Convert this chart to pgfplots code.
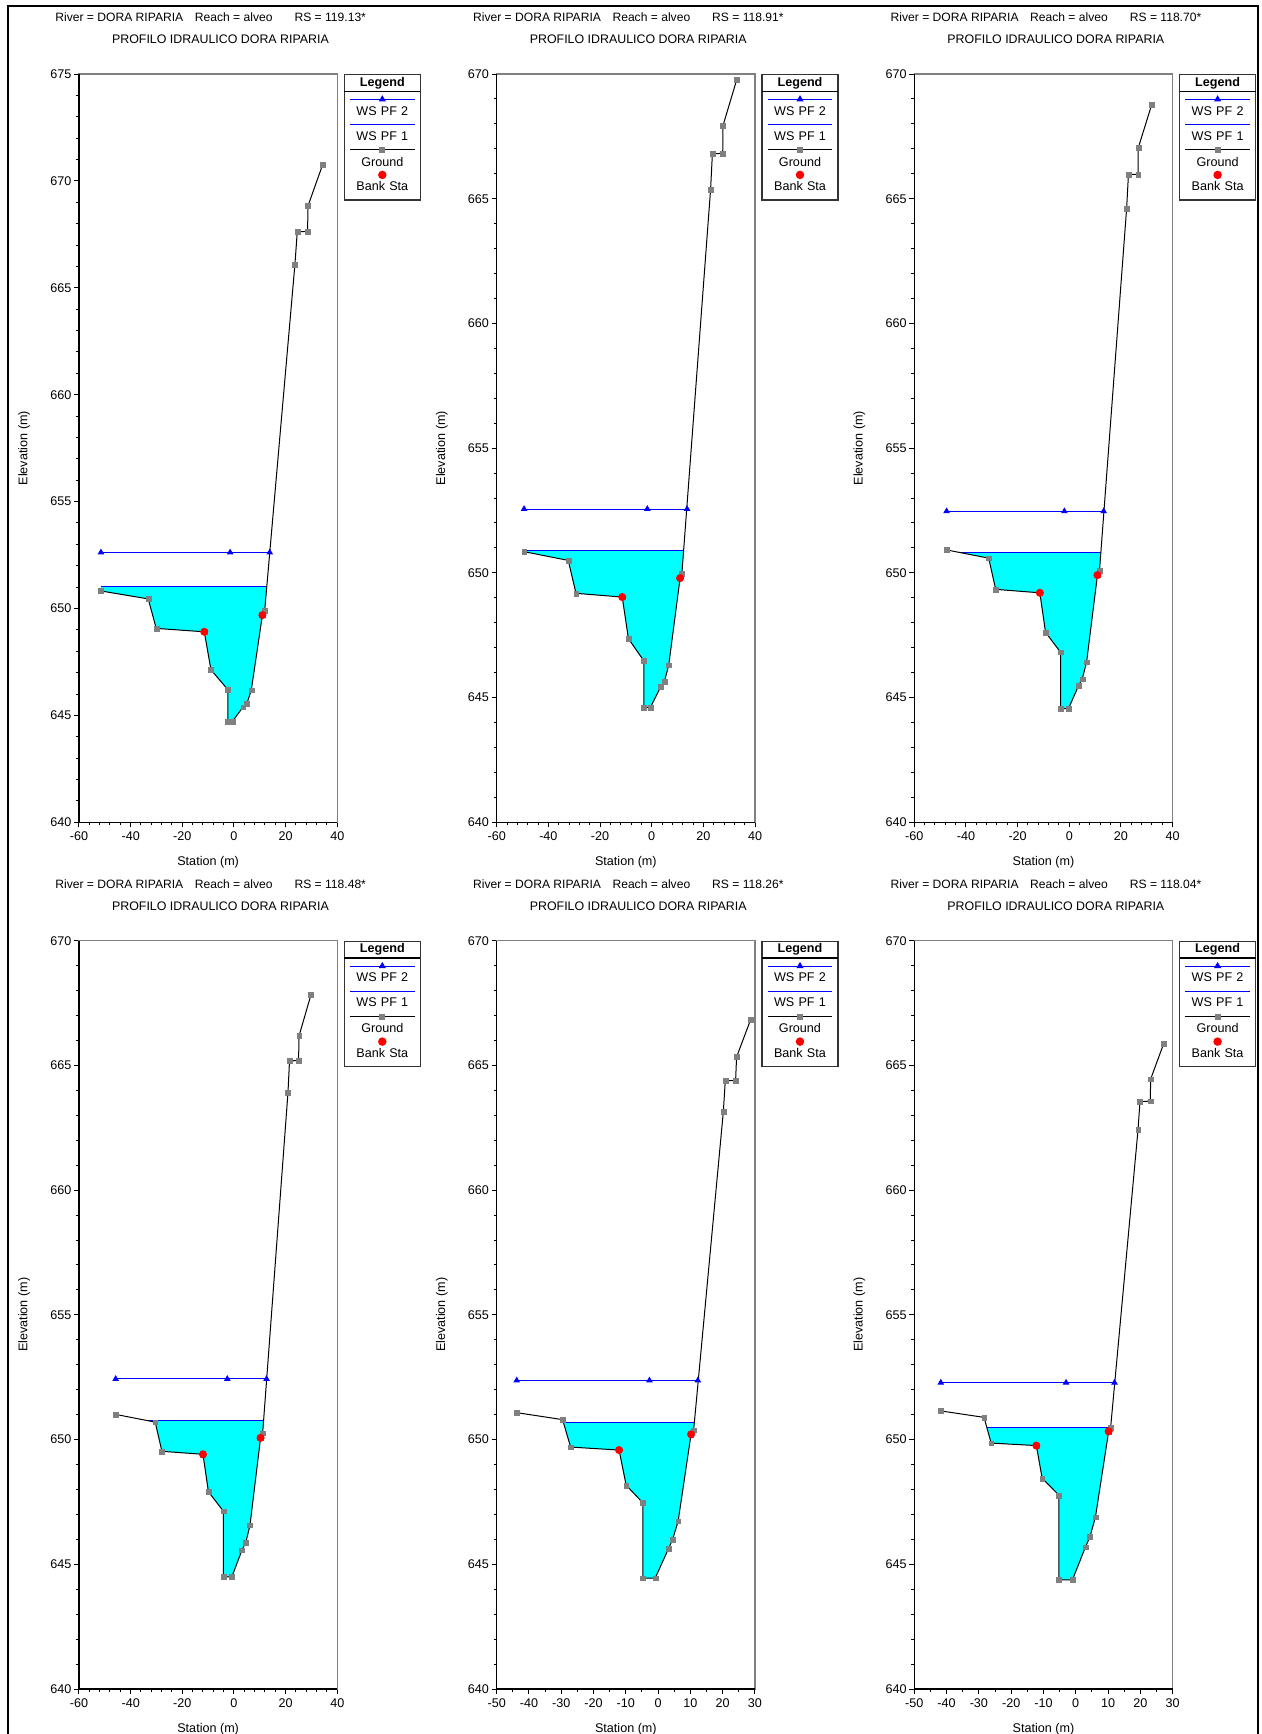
\documentclass[border=0pt]{standalone}
\usepackage{fontspec}
\setmainfont{Liberation Sans}
\usepackage{pgfplots}
\pgfplotsset{compat=1.18}

\definecolor{hecaqua}{RGB}{0,255,255}
\definecolor{hecblue}{RGB}{0,0,255}
\definecolor{hecred}{RGB}{255,0,0}
\definecolor{hecgray}{RGB}{128,128,128}

\pgfplotsset{
  hec/.style={
    scale only axis, width=129.15pt, height=374.15pt,
    ymin=640, minor y tick num=4,
    axis line style={hecgray, line width=0.6pt},
    tick pos=left, tick align=outside,
    tick style={black, line width=0.5pt},
    major tick length=2.5pt, minor tick length=1.5pt,
    /pgf/number format/assume math mode=true,
    xticklabel style={anchor=base, inner sep=0pt, yshift=-6.5pt},
    yticklabel style={anchor=east, inner sep=0pt, xshift=-1.15pt},
    xlabel={Station (m)}, ylabel={Elevation (m)},
    xlabel style={at={(axis description cs:0.5,-0.0575)}, anchor=base, inner sep=0pt},
    ylabel style={at={(axis description cs:-0.2,0.5)}, anchor=base, inner sep=0pt},
    extra description/.code={\draw[black, line width=0.6pt] (0,1) -- (0,0) -- (1,0);},
    legend cell align=center,
    legend style={at={(1,1)}, anchor=north west, xshift=3.2pt,
      draw=black!80, line width=0.6pt, fill=white,
      inner xsep=2.9pt, inner ysep=0pt, row sep=0pt, column sep=0pt,
      cells={anchor=center},
      nodes={inner sep=0pt, text width=32.2pt, align=center,
             text height=4.6pt, text depth=0pt}},
  },
  water/.style={fill=hecaqua, draw=none, forget plot},
  ws1/.style={hecblue, line width=0.5pt, forget plot},
  ws2/.style={hecblue, line width=0.5pt, mark=triangle*, mark size=1.45pt,
    mark options={fill=hecblue}, forget plot},
  ground/.style={black, line width=0.5pt, mark=square*, mark size=1.2pt,
    mark options={draw=hecgray, fill=hecgray, line width=0.1pt}, forget plot},
  bank/.style={only marks, mark=*, mark size=1.8pt,
    mark options={draw=hecred, fill=hecred}, forget plot},
}

% legend of HEC-RAS style: sample drawn above each label
\newcommand\heclegend{%
  \addlegendimage{legend image code/.code={\path[draw=none] (0,-7.5pt) -- (0,3.5pt);}}
  \addlegendentry{\textbf{Legend}}
  \addlegendimage{legend image code/.code={%
    \path[draw=none] (0,-5.5pt) -- (0,7pt);
    \draw[overlay, black, line width=0.6pt] (-2.9pt,9.65pt) -- (35.1pt,9.65pt);
    \draw[overlay, hecblue, line width=0.5pt] (0,5.65pt) -- (32.2pt,5.65pt);
    \draw[overlay, hecblue, mark=triangle*, mark size=1.45pt, mark options={fill=hecblue}]
      plot coordinates {(16.1pt,5.65pt)};}}
  \addlegendentry{WS PF 2}
  \addlegendimage{legend image code/.code={%
    \path[draw=none] (0,-5.5pt) -- (0,7pt);
    \draw[overlay, hecblue, line width=0.5pt] (0,5.5pt) -- (32.2pt,5.5pt);}}
  \addlegendentry{WS PF 1}
  \addlegendimage{legend image code/.code={%
    \path[draw=none] (0,-5.5pt) -- (0,7.5pt);
    \draw[overlay, black, line width=0.5pt] (0,5.85pt) -- (32.2pt,5.85pt);
    \draw[overlay, hecgray, mark=square*, mark size=1.2pt, mark options={fill=hecgray}]
      plot coordinates {(16.1pt,5.85pt)};}}
  \addlegendentry{Ground}
  \addlegendimage{legend image code/.code={%
    \path[draw=none] (0,-7pt) -- (0,6.65pt);
    \draw[overlay, hecred, mark=*, mark size=1.8pt, mark options={fill=hecred}]
      plot coordinates {(16.1pt,5.5pt)};}}
  \addlegendentry{Bank Sta}
}

% two title lines above a panel: x offset, y offset, river station
\newcommand\titles[3]{%
  \node[anchor=base west, inner sep=0pt, font=\fontsize{6.05}{7.3}\selectfont]
    at (27.5pt+#1,-11pt-#2)
    {River = DORA RIPARIA\hspace{5.8pt}Reach = alveo\hspace{11pt}RS = #3*};
  \node[anchor=base, inner sep=0pt, font=\fontsize{6.2}{7.4}\selectfont]
    at (110.25pt+#1,-21.65pt-#2)
    {PROFILO IDRAULICO DORA RIPARIA};
}

\begin{document}
\fontsize{6.3}{7.6}\selectfont
\begin{tikzpicture}

% ---- RS 119.13
\begin{axis}[hec, at={(39.5pt,-411.15pt)}, anchor=south west,
  xmin=-60, xmax=40, xtick={-60,-40,...,40}, minor x tick num=4,
  ymax=675, ytick={640,645,...,675}]
\heclegend
\addplot[water] coordinates {(-51.5,651.01)(-51.5,650.82)(-33.2,650.45)(-30.1,649.07)
  (-11.5,648.91)(-8.9,647.13)(-2.4,646.21)(-2.4,644.72)(-0.6,644.72)(3.5,645.39)
  (5.0,645.56)(6.7,646.18)(11.0,649.69)(11.9,649.92)(12.7,651.01)};
\addplot[ws1] coordinates {(-51.5,651.01)(12.7,651.01)};
\addplot[ws2] coordinates {(-51.5,652.62)(-1.5,652.62)(13.85,652.62)};
\addplot[ground] coordinates {(-51.5,650.82)(-33.2,650.45)(-30.1,649.07)(-11.5,648.91)
  (-8.9,647.13)(-2.4,646.21)(-2.4,644.72)(-0.6,644.72)(3.5,645.39)(5.0,645.56)
  (6.7,646.18)(11.0,649.69)(11.9,649.92)(23.6,666.10)(24.5,667.62)(28.5,667.64)
  (28.65,668.83)(34.3,670.75)};
\addplot[bank] coordinates {(-11.5,648.91)(11.0,649.69)};
\end{axis}
\titles{0pt}{0pt}{119.13}

% ---- RS 118.91
\begin{axis}[hec, at={(248.35pt,-411.15pt)}, anchor=south west,
  xmin=-60, xmax=40, xtick={-60,-40,...,40}, minor x tick num=4,
  ymax=670, ytick={640,645,...,670}]
\heclegend
\addplot[water] coordinates {(-49.4,650.90)(-49.4,650.85)(-32.3,650.50)(-29.3,649.18)
  (-11.4,649.03)(-9.0,647.36)(-3.0,646.47)(-3.0,644.61)(-0.5,644.61)(3.5,645.43)
  (4.9,645.63)(6.6,646.30)(11.0,649.79)(11.7,649.98)(12.4,650.90)};
\addplot[ws1] coordinates {(-49.4,650.90)(12.4,650.90)};
\addplot[ws2] coordinates {(-49.4,652.56)(-1.7,652.56)(13.7,652.56)};
\addplot[ground] coordinates {(-49.4,650.85)(-32.3,650.50)(-29.3,649.18)(-11.4,649.03)
  (-9.0,647.36)(-3.0,646.47)(-3.0,644.61)(-0.5,644.61)(3.5,645.43)(4.9,645.63)
  (6.6,646.30)(11.0,649.79)(11.7,649.98)(22.8,665.36)(23.5,666.80)(27.5,666.82)
  (27.6,667.93)(32.9,669.76)};
\addplot[bank] coordinates {(-11.4,649.03)(11.0,649.79)};
\end{axis}
\titles{208.85pt}{0pt}{118.91}

% ---- RS 118.70
\begin{axis}[hec, at={(457.15pt,-411.15pt)}, anchor=south west,
  xmin=-60, xmax=40, xtick={-60,-40,...,40}, minor x tick num=4,
  ymax=670, ytick={640,645,...,670}]
\heclegend
\addplot[water] coordinates {(-43.1,650.83)(-31.2,650.59)(-28.5,649.34)(-11.4,649.20)
  (-9.2,647.62)(-3.4,646.82)(-3.4,644.56)(-0.3,644.56)(3.6,645.48)(5.0,645.74)
  (6.7,646.42)(10.9,649.91)(11.7,650.10)(12.2,650.83)};
\addplot[ws1] coordinates {(-43.1,650.83)(12.2,650.83)};
\addplot[ws2] coordinates {(-47.5,652.47)(-1.9,652.47)(13.3,652.47)};
\addplot[ground] coordinates {(-47.5,650.92)(-31.2,650.59)(-28.5,649.34)(-11.4,649.20)
  (-9.2,647.62)(-3.4,646.82)(-3.4,644.56)(-0.3,644.56)(3.6,645.48)(5.0,645.74)
  (6.7,646.42)(10.9,649.91)(11.7,650.10)(22.2,664.61)(22.9,665.97)(26.6,665.98)
  (26.7,667.04)(31.9,668.77)};
\addplot[bank] coordinates {(-11.4,649.20)(10.9,649.91)};
\end{axis}
\titles{417.65pt}{0pt}{118.70}

% ---- RS 118.48
\begin{axis}[hec, at={(39.5pt,-844.5pt)}, anchor=south west,
  xmin=-60, xmax=40, xtick={-60,-40,...,40}, minor x tick num=4,
  ymax=670, ytick={640,645,...,670}]
\heclegend
\addplot[water] coordinates {(-34.0,650.78)(-30.5,650.70)(-27.9,649.53)(-12.0,649.41)
  (-9.9,647.91)(-4.1,647.13)(-4.1,644.50)(-0.8,644.50)(3.1,645.57)(4.6,645.88)
  (6.2,646.57)(10.3,650.07)(11.1,650.26)(11.5,650.78)};
\addplot[ws1] coordinates {(-34.0,650.78)(11.5,650.78)};
\addplot[ws2] coordinates {(-45.8,652.43)(-2.6,652.43)(12.6,652.43)};
\addplot[ground] coordinates {(-45.8,651.01)(-30.5,650.70)(-27.9,649.53)(-12.0,649.41)
  (-9.9,647.91)(-4.1,647.13)(-4.1,644.50)(-0.8,644.50)(3.1,645.57)(4.6,645.88)
  (6.2,646.57)(10.3,650.07)(11.1,650.26)(20.9,663.90)(21.5,665.18)(25.0,665.20)
  (25.2,666.19)(29.8,667.83)};
\addplot[bank] coordinates {(-12.0,649.41)(10.3,650.07)};
\end{axis}
\titles{0pt}{433.35pt}{118.48}

% ---- RS 118.26
\begin{axis}[hec, at={(248.35pt,-844.5pt)}, anchor=south west,
  xmin=-50, xmax=30, xtick={-50,-40,...,30}, minor x tick num=1,
  ymax=670, ytick={640,645,...,670}]
\heclegend
\addplot[water] coordinates {(-29.3,650.68)(-27.1,649.70)(-12.1,649.58)(-9.9,648.17)
  (-4.7,647.46)(-4.7,644.45)(-0.9,644.45)(3.2,645.62)(4.5,646.00)(6.2,646.73)
  (10.2,650.21)(11.0,650.38)(11.2,650.68)};
\addplot[ws1] coordinates {(-29.3,650.68)(11.2,650.68)};
\addplot[ws2] coordinates {(-43.8,652.37)(-2.7,652.37)(12.3,652.37)};
\addplot[ground] coordinates {(-43.8,651.08)(-29.6,650.80)(-27.1,649.70)(-12.1,649.58)
  (-9.9,648.17)(-4.7,647.46)(-4.7,644.45)(-0.9,644.45)(3.2,645.62)(4.5,646.00)
  (6.2,646.73)(10.2,650.21)(11.0,650.38)(20.2,663.15)(20.8,664.38)(24.0,664.40)
  (24.3,665.34)(28.7,666.85)};
\addplot[bank] coordinates {(-12.1,649.58)(10.2,650.21)};
\end{axis}
\titles{208.85pt}{433.35pt}{118.26}

% ---- RS 118.04
\begin{axis}[hec, at={(457.15pt,-844.5pt)}, anchor=south west,
  xmin=-50, xmax=30, xtick={-50,-40,...,30}, minor x tick num=1,
  ymax=670, ytick={640,645,...,670}]
\heclegend
\addplot[water] coordinates {(-27.6,650.50)(-26.2,649.86)(-12.2,649.76)(-10.4,648.45)
  (-5.2,647.77)(-5.2,644.38)(-1.0,644.38)(3.0,645.69)(4.4,646.10)(6.1,646.89)
  (10.2,650.33)(10.8,650.47)(10.85,650.50)};
\addplot[ws1] coordinates {(-27.6,650.50)(10.85,650.50)};
\addplot[ws2] coordinates {(-41.8,652.28)(-3.0,652.28)(12.0,652.28)};
\addplot[ground] coordinates {(-41.8,651.15)(-28.4,650.89)(-26.2,649.86)(-12.2,649.76)
  (-10.4,648.45)(-5.2,647.77)(-5.2,644.38)(-1.0,644.38)(3.0,645.69)(4.4,646.10)
  (6.1,646.89)(10.2,650.33)(10.8,650.47)(19.3,662.43)(19.9,663.55)(23.1,663.57)
  (23.2,664.45)(27.2,665.86)};
\addplot[bank] coordinates {(-12.2,649.76)(10.2,650.33)};
\end{axis}
\titles{417.65pt}{433.35pt}{118.04}

% outer frame of the sheet
\draw[line width=1pt] (4.15pt,-875pt) -- (4.15pt,-2.9pt) -- (629pt,-2.9pt) -- (629pt,-875pt);
\pgfresetboundingbox
\useasboundingbox (0,0) rectangle (631pt,-867pt);
\end{tikzpicture}
\end{document}
